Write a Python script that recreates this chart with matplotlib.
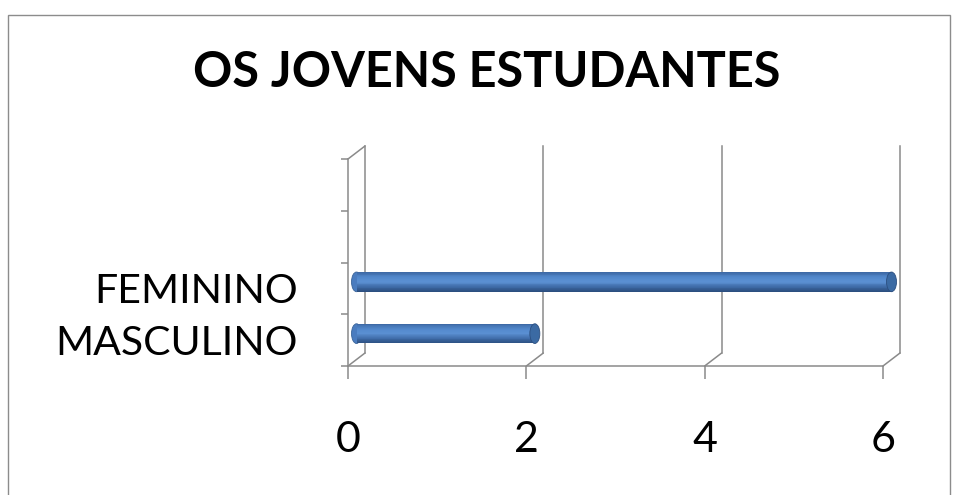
import numpy as np
import matplotlib.pyplot as plt
import matplotlib.transforms as mtransforms
from matplotlib.patches import Ellipse, Rectangle, ConnectionPatch
from matplotlib.colors import LinearSegmentedColormap

title = 'OS JOVENS ESTUDANTES'
categories = ['MASCULINO', 'FEMININO', '', '']
values = [2, 6]
xticks = [0, 2, 4, 6]

FONT = ['Lato', 'DejaVu Sans']
GRID = '#8a8a8a'
DEPTH = (17, 13)  # depth of the 3d box in pixels

plt.rcParams['font.family'] = FONT

fig = plt.figure(figsize=(9.58, 4.95), dpi=100)
fig.patches.append(Rectangle((8 / 958, -0.05), 942 / 958, 1.05 - 15 / 495,
                             transform=fig.transFigure, fill=False,
                             edgecolor='#8c8c8c', lw=1.0))
fig.text(0.508, 0.853, title, ha='center', va='center', fontsize=35, fontweight='bold')

ax = fig.add_axes([348 / 958, 1 - 366 / 495, 535 / 958, 207 / 495])
ax.set_xlim(0, 6)
ax.set_ylim(0, 4)
ax.set_facecolor('none')

back = mtransforms.offset_copy(ax.transData, fig=fig, x=DEPTH[0], y=DEPTH[1], units='dots')
mid = mtransforms.offset_copy(ax.transData, fig=fig, x=DEPTH[0] / 2, y=DEPTH[1] / 2, units='dots')

# back wall gridlines + depth lines
for x in xticks:
    ax.plot([x, x], [0, 4], transform=back, color=GRID, lw=1.1, clip_on=False, zorder=1)
    ax.add_artist(ConnectionPatch((x, 0), (x, 0), coordsA=ax.transData, coordsB=back,
                                  color=GRID, lw=1.1, zorder=1))
ax.add_artist(ConnectionPatch((0, 4), (0, 4), coordsA=ax.transData, coordsB=back,
                              color=GRID, lw=1.1, zorder=1))

# cylinder bars
cmap = LinearSegmentedColormap.from_list('cyl', ['#2c4f80', '#3f6ca8', '#5b90d3', '#5288cc', '#3e6aa6'])
n = 24
h = 0.38
w = 10 * 6 / 535
for i, v in enumerate(values):
    yc = i + 0.5
    cap = Ellipse((0, yc), w, h, facecolor='#4a7cbf', edgecolor='#3a6499', lw=0.6,
                  transform=mid, clip_on=False, zorder=2)
    ax.add_patch(cap)
    ys = yc - h / 2 + (np.arange(n) + 0.5) * h / n
    for k, y in enumerate(ys):
        bars = ax.barh(y, v, height=h / n * 1.05, left=0, color=cmap(k / (n - 1)), lw=0, zorder=3)
        for p in bars:
            p.set_transform(mid)
            p.set_clip_on(False)
    end = Ellipse((v, yc), w, h, facecolor='#3b6aa3', edgecolor='#2c4f80', lw=0.6,
                  transform=mid, clip_on=False, zorder=4)
    ax.add_patch(end)

# front axes
for s in ['top', 'right']:
    ax.spines[s].set_visible(False)
for s in ['left', 'bottom']:
    ax.spines[s].set_color(GRID)
    ax.spines[s].set_linewidth(1.1)

ax.set_xticks(xticks)
ax.set_xticklabels([str(t) for t in xticks])
ax.tick_params(axis='x', direction='out', length=9.4, width=1.1, color=GRID,
               labelsize=31, pad=30)
ax.set_yticks(np.arange(5))
ax.set_yticklabels([])
ax.tick_params(axis='y', which='major', direction='out', length=5, width=1.1, color=GRID)
ax.set_yticks(np.arange(len(categories)) + 0.5, minor=True)
ax.set_yticklabels(categories, minor=True)
ax.tick_params(axis='y', which='minor', length=0, labelsize=29.5, pad=36)

fig.savefig('out.png', dpi=100)
